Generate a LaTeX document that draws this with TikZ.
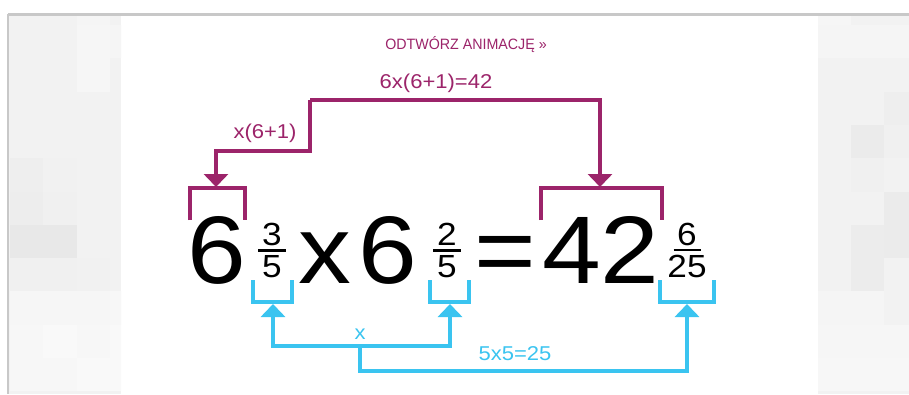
\documentclass[tikz,border=0pt]{standalone}
\usepackage{graphicx}
\usepackage{fontspec}
\setmainfont{Liberation Sans}
\usetikzlibrary{arrows.meta}

\definecolor{plum}{RGB}{156,36,106}
\definecolor{sky}{RGB}{58,196,240}
\definecolor{rim}{RGB}{200,200,200}

% horizontal stretch of a piece of text
\newcommand{\hstretch}[2]{\scalebox{#1}[1]{#2}}
% stacked fraction: bar width, numerator, denominator
\newcommand{\fracstack}[3]{\vbox{\offinterlineskip
  \hbox to 42pt{\hss\hstretch{1.1}{#2}\hss}%
  \kern 3.3pt
  \hbox to 42pt{\hss\vrule width #1 height 2.5pt depth 0pt\hss}%
  \kern 3.4pt
  \hbox to 42pt{\hss\hstretch{1.1}{#3}\hss}}}

\tikzset{
  bigdigit/.style={inner sep=0pt, anchor=base, font=\fontsize{96}{96}\selectfont},
  fracnode/.style={inner sep=0pt, anchor=base, font=\fontsize{32}{32}\selectfont},
  plumlabel/.style={inner sep=0pt, anchor=base, text=plum, font=\fontsize{20}{20}\selectfont},
  skylabel/.style={inner sep=0pt, anchor=base, text=sky, font=\fontsize{20}{20}\selectfont},
  plumline/.style={draw=plum, line width=4pt},
  skyline/.style={draw=sky, line width=4pt},
  plumarrow/.style={plumline, -{Triangle[width=24pt,length=13pt]}},
  skyarrow/.style={skyline, -{Triangle[width=24pt,length=13pt]}}
}

\begin{document}
\begin{tikzpicture}[x=1pt,y=-1pt]
\useasboundingbox (0,0) rectangle (909,394);
\fill[white] (0,0) rectangle (909,394);

% ---- tiled side panels ----
\begin{scope}
  \clip (9,15) rectangle (121,394);
  \fill[black!5] (9,15) rectangle (121,394);
  \foreach \c/\r/\s in {
      2/0/4, 2/1/3.5, 3/1/4, 2/2/3.5,
      0/5/6.5, 0/6/7, 1/5/5.5, 1/6/6,
      0/7/9, 1/7/9, 0/8/6, 1/8/6, 2/8/5.5,
      0/9/3.5, 1/9/3.5, 2/9/3.5, 3/9/3,
      0/10/3, 1/10/2.5, 2/10/3, 3/10/2.5,
      0/11/3, 1/11/3, 2/11/2.5, 3/11/2.5}{
    \fill[black!\s] ({10+33.3*\c},{-8.3+33.3*\r}) rectangle +(33.3,33.3);
  }
\end{scope}
\begin{scope}
  \clip (818,15) rectangle (909,394);
  \fill[black!5] (818,15) rectangle (909,394);
  \foreach \c/\r/\s in {
      0/0/3.5, 0/1/4, 1/1/4, 2/1/4,
      2/3/6.5, 1/4/8, 2/4/6, 1/5/6,
      2/6/8, 2/7/8, 1/7/7.5, 1/8/7.5,
      0/9/4, 1/9/4,
      0/10/3.5, 1/10/3.5, 2/10/3.5,
      0/11/3, 1/11/3, 2/11/3}{
    \fill[black!\s] ({818+33*\c},{-8.3+33.3*\r}) rectangle +(33,33.3);
  }
\end{scope}

% ---- frame ----
\draw[rim, line width=3pt] (8,14) -- (909,14);
\draw[rim, line width=2pt] (8,14) -- (8,394);

% ---- link text ----
\node[inner sep=0pt, anchor=base, text=plum, font=\fontsize{15}{15}\selectfont]
  (replay) at (466,49) {\hstretch{0.95}{ODTWÓRZ ANIMACJĘ »}};

% ---- equation ----
\node[bigdigit] (whole1) at (217,283) {\hstretch{1.1}{6}};
\node[bigdigit] (times)  at (325,283) {\hstretch{1.1}{x}};
\node[bigdigit] (whole2) at (388,283) {\hstretch{1.1}{6}};
\node[bigdigit] (equals) at (505,283) {\hstretch{1.1}{=}};
\node[bigdigit] (whole3) at (601,283) {\hstretch{1.1}{42}};

\node[fracnode] (frac1) at (272,277) {\fracstack{28pt}{3}{5}};
\node[fracnode] (frac2) at (447,277) {\fracstack{28pt}{2}{5}};
\node[fracnode] (frac3) at (687,277) {\fracstack{27pt}{6}{25}};

% ---- whole-number brackets (top) ----
\draw[plumline] (190,220) -- (190,188) -- (245,188) -- (245,220);
\draw[plumline] (541,220) -- (541,188) -- (662,188) -- (662,220);

\coordinate (mjoin)  at (310,100);
\coordinate (mright) at (600,100);
\coordinate (mstep)  at (216,151);
\coordinate (mtipL)  at (216,187);
\coordinate (mtipR)  at (600,187);

\draw[plumarrow] (mjoin) -- (mright) -- (mtipR);
\draw[plumarrow] (mjoin) |- (mstep) -- (mtipL);

\node[plumlabel] (ruleTop)  at (436,88)  {\hstretch{1.1}{6x(6+1)=42}};
\node[plumlabel] (ruleLeft) at (265,138) {\hstretch{1.1}{x(6+1)}};

% ---- denominator brackets (bottom) ----
\draw[skyline] (253,280) -- (253,302) -- (292,302) -- (292,280);
\draw[skyline] (430,280) -- (430,302) -- (469,302) -- (469,280);
\draw[skyline] (660,280) -- (660,302) -- (714,302) -- (714,280);

\coordinate (sjoin) at (360,346);
\coordinate (stipA) at (273,304);
\coordinate (stipB) at (450,304);
\coordinate (stipC) at (687,304);
\coordinate (sbase) at (687,371);

\draw[skyarrow] (sjoin) -| (stipA);
\draw[skyarrow] (sjoin) -| (stipB);
\draw[skyarrow] (sjoin) |- (sbase) -- (stipC);

\node[skylabel] (ruleX)    at (360,339) {\hstretch{1.1}{x}};
\node[skylabel] (ruleProd) at (515,360) {\hstretch{1.1}{5x5=25}};
\end{tikzpicture}
\end{document}
